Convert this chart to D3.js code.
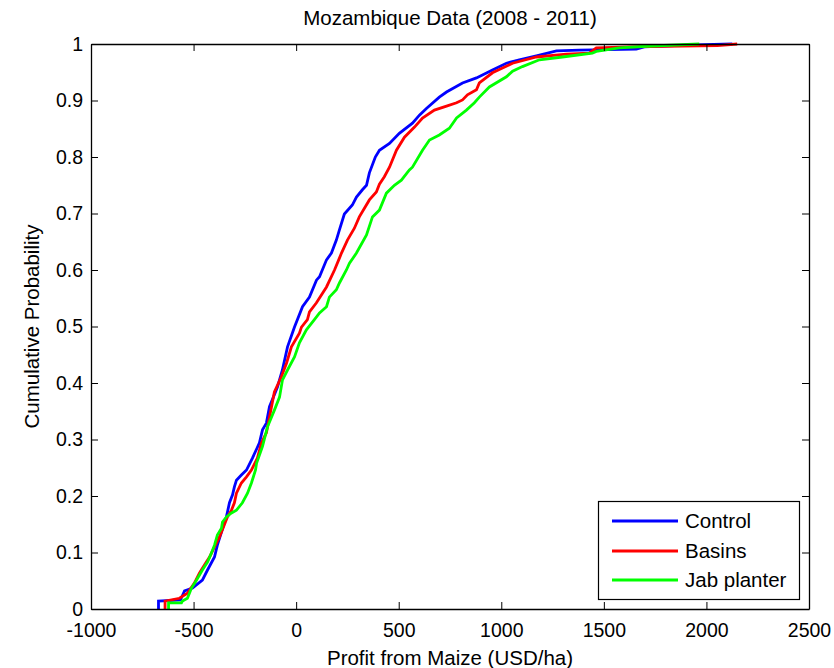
<!DOCTYPE html>
<html>
<head>
<meta charset="utf-8">
<script src="https://cdn.jsdelivr.net/npm/d3@7"></script>
<style>
  html, body { margin: 0; padding: 0; background: #fff; }
  svg { display: block; }
  text { font-family: "Liberation Sans", Arial, sans-serif; fill: #000; }
</style>
</head>
<body>
<svg id="chart" width="834" height="668"></svg>
<script>
// ---- Data ----
const titleText = "Mozambique Data (2008 - 2011)";
const xLabelText = "Profit from Maize (USD/ha)";
const yLabelText = "Cumulative Probability";
const seriesNames = ["Control", "Basins", "Jab planter"];
const seriesColors = ["#0000ff", "#ff0000", "#00ff00"];

const xTicks = [-1000, -500, 0, 500, 1000, 1500, 2000, 2500];
const yTicks = [0, 0.1, 0.2, 0.3, 0.4, 0.5, 0.6, 0.7, 0.8, 0.9, 1];

const controlX = [-671, -671, -564, -544, -505, -457, -432, -398, -384, -364, -350, -340, -325, -310, -301, -291, -267, -242, -213, -179, -164, -145, -130, -91, -67, -42, -8, 31, 65, 99, 114, 148, 172, 196, 211, 235, 274, 294, 323, 343, 357, 386, 406, 455, 503, 567, 601, 635, 698, 733, 811, 879, 957, 1025, 1088, 1171, 1269, 1381, 1658, 1697, 1901, 2126];
const controlP = [0, 0.014, 0.016, 0.032, 0.037, 0.051, 0.069, 0.092, 0.113, 0.136, 0.152, 0.163, 0.188, 0.202, 0.216, 0.228, 0.237, 0.246, 0.267, 0.294, 0.317, 0.329, 0.358, 0.393, 0.423, 0.464, 0.499, 0.535, 0.552, 0.582, 0.588, 0.618, 0.630, 0.653, 0.671, 0.699, 0.715, 0.729, 0.742, 0.750, 0.772, 0.800, 0.812, 0.824, 0.842, 0.860, 0.874, 0.886, 0.906, 0.915, 0.931, 0.940, 0.954, 0.966, 0.972, 0.979, 0.988, 0.989, 0.991, 0.995, 0.998, 1.0];

const basinsX = [-639, -639, -569, -530, -496, -471, -447, -422, -398, -374, -350, -335, -315, -301, -291, -267, -242, -218, -189, -169, -145, -120, -106, -72, -47, -23, 16, 26, 55, 65, 99, 148, 187, 211, 221, 250, 284, 308, 357, 391, 406, 430, 455, 489, 528, 577, 616, 674, 733, 782, 811, 835, 879, 893, 957, 1055, 1171, 1317, 1429, 1463, 1624, 2053, 2150];
const basinsP = [0, 0.014, 0.019, 0.028, 0.046, 0.064, 0.078, 0.092, 0.110, 0.127, 0.149, 0.163, 0.175, 0.188, 0.205, 0.223, 0.234, 0.246, 0.267, 0.294, 0.312, 0.358, 0.384, 0.411, 0.435, 0.464, 0.488, 0.499, 0.512, 0.526, 0.542, 0.570, 0.600, 0.621, 0.630, 0.653, 0.674, 0.694, 0.724, 0.738, 0.752, 0.765, 0.782, 0.812, 0.835, 0.853, 0.869, 0.883, 0.890, 0.896, 0.901, 0.910, 0.919, 0.931, 0.949, 0.966, 0.977, 0.982, 0.984, 0.993, 0.995, 0.997, 1.0];

const jabX = [-622, -622, -559, -554, -530, -510, -486, -457, -432, -413, -398, -384, -364, -359, -340, -315, -291, -262, -237, -218, -198, -193, -164, -140, -106, -81, -67, -42, -8, 16, 50, 89, 114, 148, 162, 196, 211, 245, 260, 294, 343, 372, 406, 440, 479, 513, 552, 567, 616, 650, 698, 747, 782, 830, 869, 893, 942, 1025, 1055, 1103, 1186, 1298, 1444, 1463, 1575, 1707, 1965];
const jabP = [0, 0.011, 0.011, 0.014, 0.019, 0.037, 0.051, 0.069, 0.083, 0.099, 0.113, 0.131, 0.143, 0.154, 0.163, 0.170, 0.175, 0.188, 0.205, 0.223, 0.246, 0.258, 0.288, 0.322, 0.352, 0.375, 0.405, 0.423, 0.446, 0.471, 0.494, 0.512, 0.524, 0.535, 0.552, 0.565, 0.577, 0.600, 0.612, 0.630, 0.662, 0.694, 0.706, 0.736, 0.750, 0.759, 0.777, 0.782, 0.812, 0.830, 0.839, 0.851, 0.869, 0.883, 0.896, 0.906, 0.924, 0.942, 0.952, 0.960, 0.972, 0.977, 0.984, 0.987, 0.993, 0.996, 1.0];

// ---- Layout ----
const svg = d3.select("#chart");
const L = 91, R = 809, T = 44, B = 609;
const x = d3.scaleLinear().domain([-1000, 2500]).range([L, R]);
const y = d3.scaleLinear().domain([0, 1]).range([B, T]);
const tickLen = 7;
const tickFont = 19.5;
const labelFont = 20.5;

// Series
const series = [
  { name: seriesNames[0], color: seriesColors[0], xs: controlX, ps: controlP },
  { name: seriesNames[1], color: seriesColors[1], xs: basinsX, ps: basinsP },
  { name: seriesNames[2], color: seriesColors[2], xs: jabX, ps: jabP }
];
const line = d3.line().x(d => x(d[0])).y(d => y(d[1]));
svg.append("g").selectAll("path").data(series).join("path")
  .attr("d", s => line(s.xs.map((v, i) => [v, s.ps[i]])))
  .attr("fill", "none")
  .attr("stroke", s => s.color)
  .attr("stroke-width", 2.8)
  .attr("stroke-linejoin", "miter");

// Axes (MATLAB-style box with inward ticks on all sides)
const axisG = svg.append("g");
const xAxisB = d3.axisBottom(x).tickValues(xTicks).tickSizeInner(-tickLen).tickSizeOuter(0).tickPadding(14).tickFormat(d3.format("d"));
const xAxisT = d3.axisTop(x).tickValues(xTicks).tickSizeInner(-tickLen).tickSizeOuter(0).tickFormat("");
const yAxisL = d3.axisLeft(y).tickValues(yTicks).tickSizeInner(-tickLen).tickSizeOuter(0).tickPadding(8).tickFormat(d => d === 0 || d === 1 ? String(d) : d3.format(".1f")(d));
const yAxisR = d3.axisRight(y).tickValues(yTicks).tickSizeInner(-tickLen).tickSizeOuter(0).tickFormat("");

const gB = axisG.append("g").attr("transform", `translate(0,${B})`).call(xAxisB);
const gT = axisG.append("g").attr("transform", `translate(0,${T})`).call(xAxisT);
const gL = axisG.append("g").attr("transform", `translate(${L},0)`).call(yAxisL);
const gR = axisG.append("g").attr("transform", `translate(${R},0)`).call(yAxisR);
[gB, gT, gL, gR].forEach(g => {
  g.selectAll(".domain").attr("stroke", "#000").attr("stroke-width", 1.3);
  g.selectAll(".tick line").attr("stroke", "#000").attr("stroke-width", 1);
  g.selectAll("text").attr("font-size", tickFont).attr("font-family", "Liberation Sans, Arial, sans-serif").attr("fill", "#000");
});
gB.selectAll("text").text(d => d < 0 ? "-" + Math.abs(d) : String(d));

// Title and axis labels
svg.append("text").attr("x", (L + R) / 2).attr("y", 25).attr("text-anchor", "middle")
  .attr("font-size", labelFont).text(titleText);
svg.append("text").attr("x", (L + R) / 2).attr("y", 665).attr("text-anchor", "middle")
  .attr("font-size", labelFont).text(xLabelText);
svg.append("text").attr("transform", `translate(39,${(T + B) / 2}) rotate(-90)`).attr("text-anchor", "middle")
  .attr("font-size", labelFont).text(yLabelText);

// Legend
const lg = svg.append("g");
const lgX = 598, lgY = 501, lgW = 201, lgH = 98;
lg.append("rect").attr("x", lgX + 0.5).attr("y", lgY + 0.5).attr("width", lgW).attr("height", lgH)
  .attr("fill", "#fff").attr("stroke", "#000").attr("stroke-width", 1.2);
const rowY = [521, 551, 580];
series.forEach((s, i) => {
  lg.append("line").attr("x1", 612).attr("x2", 678).attr("y1", rowY[i]).attr("y2", rowY[i])
    .attr("stroke", s.color).attr("stroke-width", 2.8);
  lg.append("text").attr("x", 685).attr("y", rowY[i]).attr("dy", "0.35em")
    .attr("font-size", labelFont).text(s.name);
});
</script>
</body>
</html>
